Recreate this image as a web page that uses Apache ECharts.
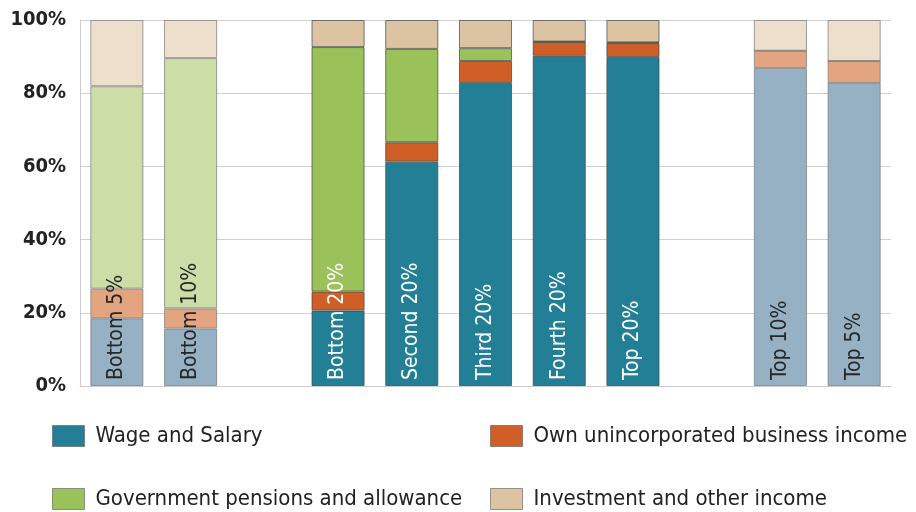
<!DOCTYPE html>
<html><head><meta charset="utf-8">
<script src="https://cdn.jsdelivr.net/npm/echarts@6/dist/echarts.min.js"></script>
<style>html,body{margin:0;padding:0;background:#fff}#c{width:916px;height:512px}</style>
</head><body><div id="c"></div>
<script>
const categories = ['Bottom 5%','Bottom 10%','','Bottom 20%','Second 20%','Third 20%','Fourth 20%','Top 20%','','Top 10%','Top 5%'];
const seriesNames = ['Wage and Salary','Own unincorporated business income','Government pensions and allowance','Investment and other income'];
const wage = [18.5,15.7,null,20.6,61.3,82.8,90.2,89.9,null,86.9,82.8];
const own  = [8.1,5.5,null,5.2,5.3,6.0,3.8,3.8,null,4.7,6.0];
const govt = [55.3,68.4,null,66.8,25.5,3.5,0.1,0.2,null,0,0];
const inv  = [18.1,10.4,null,7.4,7.9,7.7,5.9,6.1,null,8.4,11.2];
const yTicks = [0,20,40,60,80,100];
const mutedGroups = ['Bottom 5%','Bottom 10%','Top 10%','Top 5%'];

const FONT = "'DejaVu Sans Condensed','Liberation Sans Narrow','Roboto',sans-serif";
const dark = ['#237F96','#CF5F26','#9BC25A','#DCC4A2'];
const light = ['#95B1C3','#E3A57F','#CCDDA8','#EEDFCC'];
const allData = [wage, own, govt, inv];

const series = allData.map((arr, si) => ({
  name: seriesNames[si],
  type: 'bar',
  stack: 'total',
  barCategoryGap: '28%',
  itemStyle: {color: dark[si], borderColor: 'rgba(60,70,70,0.7)', borderWidth: 1},
  data: arr.map((v, i) => {
    if (v === null) return '-';
    const muted = mutedGroups.includes(categories[i]);
    const d = {value: v};
    if (muted) d.itemStyle = {color: light[si], borderColor: 'rgba(120,120,120,0.7)'};
    if (si === 0) d.label = {color: muted ? '#262626' : '#fff'};
    return d;
  }),
  label: si === 0 ? {
    show: true, position: 'insideBottom', rotate: 90, align: 'left', verticalAlign: 'middle',
    distance: 6, fontSize: 21, fontFamily: FONT,
    formatter: p => p.name
  } : {show: false}
}));

const legendPos = [[52, 425], [490, 425], [52, 488], [490, 488]];
const legends = seriesNames.map((n, i) => ({
  data: [n], left: legendPos[i][0], top: legendPos[i][1], itemWidth: 32, itemHeight: 21,
  icon: 'rect', textStyle: {fontSize: 22, color: '#222', fontFamily: FONT, padding: [0, 0, 0, 6]}, selectedMode: false,
  padding: 0, itemStyle: {borderColor: 'rgba(90,90,90,0.6)', borderWidth: 1}
}));

const chart = echarts.init(document.getElementById('c'));
chart.setOption({
  animation: false,
  grid: {left: 80, right: 25, top: 20, bottom: 126},
  xAxis: {type: 'category', data: categories,
    axisLine: {lineStyle: {color: '#cccccc'}}, axisTick: {show: false}, axisLabel: {show: false}},
  yAxis: {type: 'value', min: 0, max: 100, interval: 20,
    axisLine: {show: true, lineStyle: {color: '#cccccc'}},
    splitLine: {lineStyle: {color: '#d0d0d0'}},
    axisLabel: {formatter: v => yTicks.includes(v) ? v + '%' : '', fontSize: 20, fontWeight: 'bold', color: '#222', fontFamily: FONT, margin: 14}},
  legend: legends,
  series: series
});
</script></body></html>
